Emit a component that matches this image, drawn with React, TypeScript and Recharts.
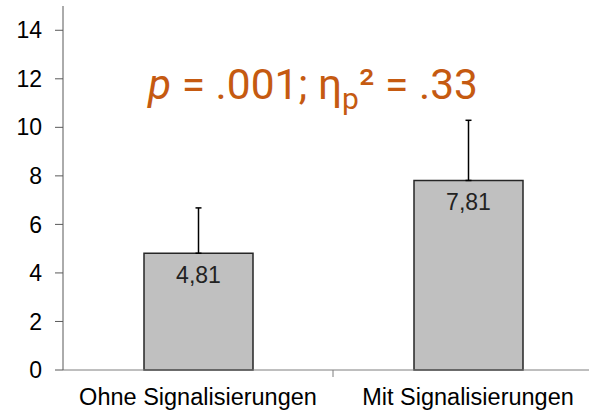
import React from 'react';
import { BarChart, Bar, XAxis, YAxis, ErrorBar, LabelList, Customized } from 'recharts';

const categories = ['Ohne Signalisierungen', 'Mit Signalisierungen'];
const means = [4.81, 7.81];
const errorsUp = [1.87, 2.48];
const yTicks = [0, 2, 4, 6, 8, 10, 12, 14];

const data = categories.map((c, i) => ({ name: c, value: means[i], err: [0, errorsUp[i]] }));

const FONT = '"Liberation Sans", Arial, sans-serif';
const ANN_FONT = 'Roboto, "Liberation Sans", sans-serif';
const ORANGE = '#C55A11';

const CatTick = (props: any) => {
  const { x, y, payload } = props;
  const half = 135;
  return (
    <g>
      <text x={x} y={y} dy={35} textAnchor="middle" fontFamily={FONT} fontSize={23.5} fill="#000">
        {payload.value}
      </text>
      <line x1={x + half} x2={x + half} y1={y} y2={y + 7} stroke="#7f7f7f" strokeWidth={1} />
    </g>
  );
};

const Annotation = () => (
  <text x={148} y={99} fontFamily={ANN_FONT} fontSize={42.5} fill={ORANGE}>
    <tspan fontStyle="italic">p</tspan>
    <tspan> = .001; η</tspan>
    <tspan fontSize={30} dy={10}>p</tspan>
    <tspan dy={-10}>² = .33</tspan>
  </text>
);

export default function App() {
  return (
    <div style={{ position: 'absolute', left: 0, top: 0, width: 589, height: 411, background: '#fff' }}>
      <BarChart
        width={589}
        height={411}
        data={data}
        margin={{ top: 6, right: -14, bottom: 0, left: 0 }}
        barCategoryGap={0}
      >
        <XAxis
          dataKey="name"
          height={41}
          tickSize={0}
          tickMargin={0}
          tick={<CatTick />}
          axisLine={{ stroke: '#7f7f7f', strokeWidth: 1 }}
          interval={0}
        />
        <YAxis
          width={63}
          domain={[0, 15]}
          ticks={yTicks}
          tickSize={8}
          tickMargin={13}
          tick={{ fontFamily: FONT, fontSize: 23, fill: '#000' }}
          axisLine={{ stroke: '#595959', strokeWidth: 1 }}
          tickLine={{ stroke: '#595959', strokeWidth: 1 }}
        />
        <Bar dataKey="value" fill="#C0C0C0" stroke="#262626" strokeWidth={1.5} barSize={109} isAnimationActive={false}>
          <ErrorBar dataKey="err" width={3} stroke="#000" strokeWidth={1.5} direction="y" />
          <LabelList
            dataKey="value"
            position="insideTop"
            offset={13}
            formatter={(v: any) => Number(v).toFixed(2).replace('.', ',')}
            style={{ fontFamily: FONT, fontSize: 23, fill: '#222' }}
          />
        </Bar>
        <Customized component={Annotation} />
      </BarChart>
    </div>
  );
}
